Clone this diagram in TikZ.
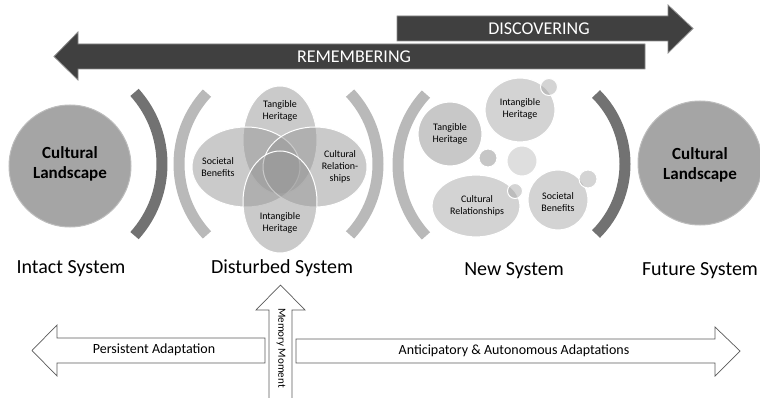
\documentclass[tikz,border=0pt]{standalone}
\usepackage{fontspec}
\setmainfont{Carlito}
\usetikzlibrary{shapes.geometric}

\definecolor{bandfill}{HTML}{404040}
\definecolor{bandedge}{HTML}{8C8C8C}
\definecolor{landfill}{HTML}{A5A5A5}
\definecolor{landedge}{HTML}{BDBDBD}
\definecolor{arcdarkc}{HTML}{727272}
\definecolor{arclightc}{HTML}{B9B9B9}
\definecolor{vennfill}{HTML}{969696}
\definecolor{bubblefill}{HTML}{D3D3D3}
\definecolor{bubbledark}{HTML}{C8C8C8}
\definecolor{dotfill}{HTML}{A0A0A0}
\definecolor{flowedge}{HTML}{5A5A5A}

\tikzset{
  band/.style={fill=bandfill, draw=bandedge, line width=0.8pt},
  bandtext/.style={text=white, font=\fontsize{18}{20}\selectfont},
  landscape/.style={circle, fill=landfill, draw=landedge, line width=1pt, inner sep=0pt},
  landtext/.style={font=\bfseries\fontsize{17}{20}\selectfont, align=center},
  arcdark/.style={draw=arcdarkc, line width=11pt},
  arclight/.style={draw=arclightc, line width=11pt},
  venn/.style={ellipse, fill=vennfill, fill opacity=0.5, draw=white, line width=1pt, inner sep=0pt},
  small/.style={font=\fontsize{10}{12}\selectfont, align=center},
  bubble/.style={fill=bubblefill, draw=white, line width=1.2pt},
  dot/.style={fill=dotfill, fill opacity=0.45, draw=white, line width=1pt},
  syslabel/.style={font=\fontsize{20}{24}\selectfont, anchor=base},
  flow/.style={fill=white, draw=flowedge, line width=0.7pt, line join=miter},
  flowtext/.style={font=\fontsize{14}{16}\selectfont},
}

\begin{document}
\begin{tikzpicture}[x=1pt, y=-1pt]
\useasboundingbox (0,0) rectangle (760,398);

% time bands
\draw[band] (397,16) -- (668,16) -- (668,5) -- (693,28.5) -- (668,53) -- (668,41) -- (397,41) -- cycle;
\draw[band] (645,44) -- (78,44) -- (78,32) -- (54,56.5) -- (78,80) -- (78,69) -- (645,69) -- cycle;
\node[bandtext] (disc) at (539,29) {DISCOVERING};
\node[bandtext] (remb) at (354,57) {REMEMBERING};

% intact and future landscapes
\node[landscape, minimum size=122pt] (intact) at (70,166) {};
\node[landtext] (intactlbl) at (70,164) {Cultural\\Landscape};
\node[landscape, minimum size=124pt] (future) at (700,163) {};
\node[landtext] (futurelbl) at (700,165) {Cultural\\Landscape};

% brackets
\draw[arcdark] (55,164) ++(-42:107) arc[start angle=-42, end angle=42, radius=107];
\draw[arclight] (283,164) ++(137:104) arc[start angle=137, end angle=223, radius=104];
\draw[arclight] (274,164) ++(-43:104) arc[start angle=-43, end angle=43, radius=104];
\draw[arclight] (502,165) ++(137:104) arc[start angle=137, end angle=223, radius=104];
\draw[arcdark] (526,164) ++(-45:99) arc[start angle=-45, end angle=45, radius=99];

% disturbed system
\node[venn, minimum width=74pt, minimum height=108pt] (tang) at (280,140) {};
\node[venn, minimum width=108pt, minimum height=80pt] (soc) at (246,167) {};
\node[venn, minimum width=104pt, minimum height=80pt] (rel) at (315,167) {};
\node[venn, minimum width=74pt, minimum height=102pt] (intang) at (280,202) {};
\node[small] (tangl) at (280,111) {Tangible\\Heritage};
\node[small] (socl) at (218,167) {Societal\\Benefits};
\node[small] (rell) at (340,167) {Cultural\\Relation-\\ships};
\node[small] (intangl) at (280,223) {Intangible\\Heritage};

% new system
\draw[bubble, fill=bubbledark] (450,134) circle[radius=32];
\draw[bubble] (520,110) ellipse[x radius=35, y radius=32];
\draw[bubble] (476,206) ellipse[x radius=44, y radius=31];
\draw[bubble] (558,200) circle[radius=30];
\draw[dot] (549,87) circle[radius=8.5];
\draw[dot, fill opacity=0.6] (488,158) circle[radius=9];
\draw[dot, fill opacity=0.35] (522,161) circle[radius=15];
\draw[dot] (515,191) circle[radius=7.5];
\draw[dot] (588,179) circle[radius=9];
\node[small] (ntang) at (450,134) {Tangible\\Heritage};
\node[small] (nintang) at (520,109) {Intangible\\Heritage};
\node[small] (nrel) at (477,206) {Cultural\\Relationships};
\node[small] (nsoc) at (558,202) {Societal\\Benefits};

% system labels
\node[syslabel] (s1) at (71,273) {Intact System};
\node[syslabel] (s2) at (282,273) {Disturbed System};
\node[syslabel] (s3) at (514,275) {New System};
\node[syslabel] (s4) at (700,275) {Future System};

% adaptation arrows
\draw[flow] (265,338) -- (57,338) -- (57,325) -- (32,350.5) -- (57,376) -- (57,363) -- (265,363) -- cycle;
\draw[flow] (296,339) -- (715,339) -- (715,327) -- (740,351) -- (715,376) -- (715,363) -- (296,363) -- cycle;
\draw[flow] (269,400) -- (269,310) -- (256,310) -- (280.5,285) -- (305,310) -- (292,310) -- (292,400);
\node[flowtext] (pers) at (154,350) {Persistent Adaptation};
\node[flowtext] (antic) at (514,351) {Anticipatory \& Autonomous Adaptations};
\node[font=\fontsize{11}{13}\selectfont, rotate=-90] (mem) at (281,348) {Memory Moment};
\end{tikzpicture}
\end{document}
